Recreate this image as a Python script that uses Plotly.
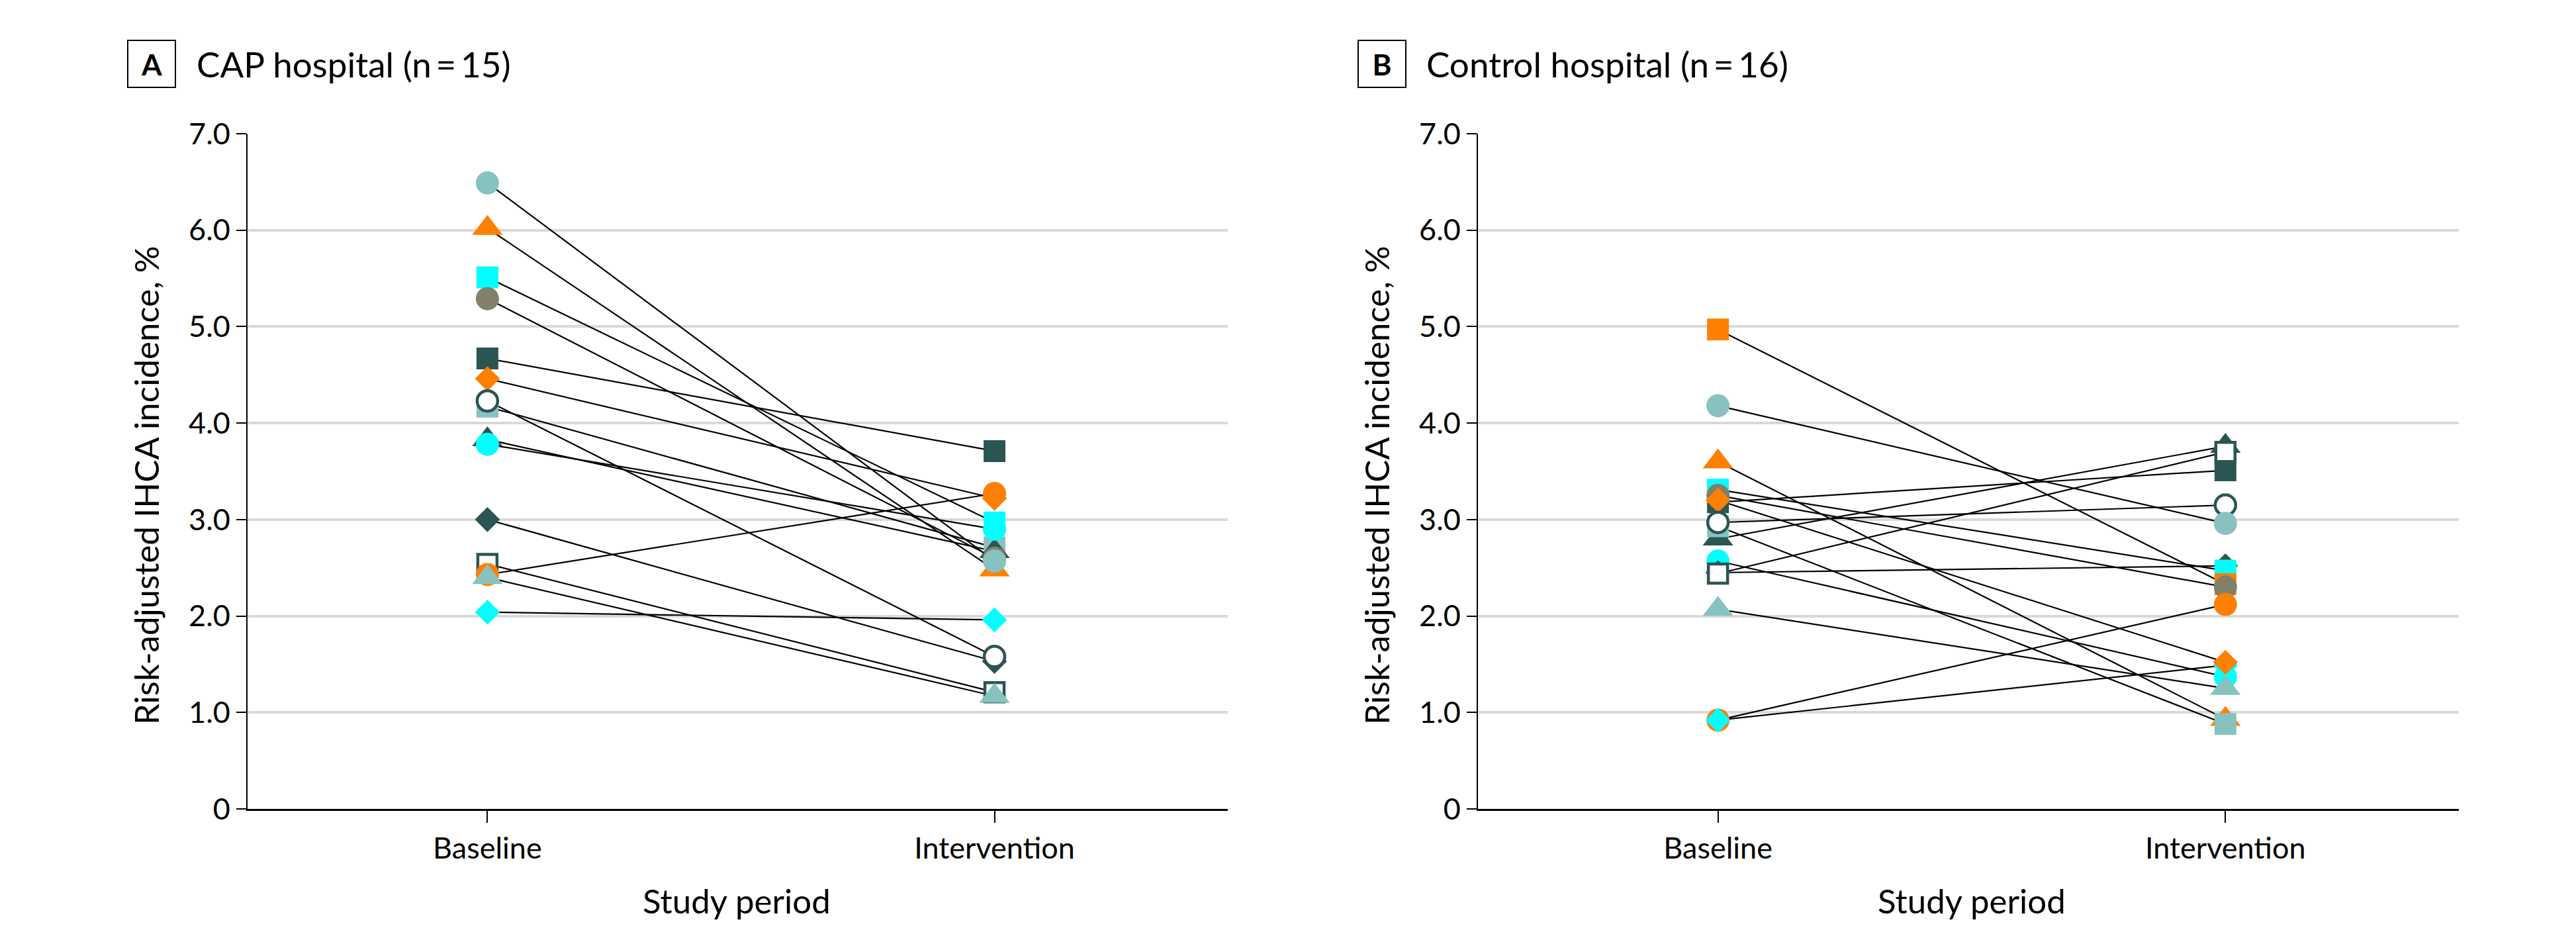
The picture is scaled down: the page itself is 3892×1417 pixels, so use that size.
import plotly.graph_objects as go

# ---------------- data ----------------
PERIODS = ["Baseline", "Intervention"]
Y_TICKS = [0, 1, 2, 3, 4, 5, 6, 7]
Y_TICK_LABELS = ["0", "1.0", "2.0", "3.0", "4.0", "5.0", "6.0", "7.0"]

PANEL_A_LETTER = "A"
PANEL_B_LETTER = "B"
PANEL_A_TITLE = "CAP hospital (n\u2009=\u200915)"
PANEL_B_TITLE = "Control hospital (n\u2009=\u200916)"
Y_TITLE = "Risk-adjusted IHCA incidence, %"
X_TITLE = "Study period"

# unit keys (each unit keeps its own marker in both periods), listed in drawing order
CAP_UNITS = ["lt_sq", "dk_tri", "cy_sq", "dk_sq", "dk_dia", "or_dia", "dk_osq", "or_tri",
             "gr_circ", "cy_circ", "opn_circ", "or_circ", "lt_circ", "lt_tri", "cy_dia"]
CAP_BASELINE = [4.17, 3.83, 5.51, 4.67, 3.00, 4.46, 2.54, 6.02,
                5.29, 3.78, 4.23, 2.43, 6.49, 2.40, 2.04]
CAP_INTERVENTION = [2.71, 2.67, 2.97, 3.71, 1.53, 3.22, 1.21, 2.48,
                    2.60, 2.90, 1.58, 3.27, 2.57, 1.17, 1.96]

CTRL_UNITS = ["or_tri", "dk_tri", "dk_sq", "lt_sq", "cy_circ", "dk_dia", "dk_osq", "cy_sq",
              "or_sq", "gr_circ", "or_circ", "cy_dia", "or_dia", "opn_circ", "lt_tri", "lt_circ"]
CTRL_BASELINE = [3.60, 2.80, 3.18, 2.93, 2.57, 2.45, 2.44, 3.31,
                 4.97, 3.25, 0.92, 0.92, 3.20, 2.97, 2.07, 4.18]
CTRL_INTERVENTION = [0.93, 3.76, 3.51, 0.88, 1.37, 2.52, 3.70, 2.47,
                     2.33, 2.30, 2.12, 1.49, 1.52, 3.15, 1.25, 2.96]

# ---------------- styles ----------------
LT = "#88C2C0"
OR = "#FF8000"
CY = "#00FFFF"
DK = "#2B5553"
GR = "#818069"
WHITE = "#FFFFFF"
STYLE = {
    "lt_sq": ("square", LT, LT), "lt_circ": ("circle", LT, LT), "lt_tri": ("triangle-up", LT, LT),
    "or_sq": ("square", OR, OR), "or_circ": ("circle", OR, OR), "or_tri": ("triangle-up", OR, OR),
    "or_dia": ("diamond", OR, OR),
    "cy_sq": ("square", CY, CY), "cy_circ": ("circle", CY, CY), "cy_dia": ("diamond", CY, CY),
    "dk_sq": ("square", DK, DK), "dk_tri": ("triangle-up", DK, DK), "dk_dia": ("diamond", DK, DK),
    "dk_osq": ("square", WHITE, DK), "opn_circ": ("circle", WHITE, DK),
    "gr_circ": ("circle", GR, GR),
}
SIZE = {"circle": 35, "square": 33, "triangle-up": 40, "diamond": 29}

W, H = 3892, 1417
FONT = "Lato, Roboto, Open Sans, sans-serif"

def px(x):
    return x / W

def py(y):
    return 1 - y / H

fig = go.Figure()

panels = [
    ("x", "y", CAP_UNITS, CAP_BASELINE, CAP_INTERVENTION),
    ("x2", "y2", CTRL_UNITS, CTRL_BASELINE, CTRL_INTERVENTION),
]
for xa, ya, units, base, inter in panels:
    for u, b, i in zip(units, base, inter):
        fig.add_trace(go.Scatter(x=PERIODS, y=[b, i], mode="lines",
                                 line=dict(color="black", width=2.2),
                                 xaxis=xa, yaxis=ya, showlegend=False, hoverinfo="skip"))
    for u, b, i in zip(units, base, inter):
        sym, fill, edge = STYLE[u]
        open_m = fill == WHITE
        fig.add_trace(go.Scatter(x=PERIODS, y=[b, i], mode="markers",
                                 marker=dict(symbol=sym, size=SIZE[sym] - (4 if open_m else 0),
                                             color=fill,
                                             line=dict(color=edge, width=4.5 if open_m else 0)),
                                 xaxis=xa, yaxis=ya, showlegend=False))

axis_common_y = dict(range=[0, 7], tickvals=Y_TICKS, ticktext=Y_TICK_LABELS, automargin=False,
                     showgrid=True, gridcolor="#D9D9D9", gridwidth=3.5, zeroline=False,
                     showline=True, linecolor="black", linewidth=2.2,
                     ticks="outside", ticklen=15, tickwidth=2.2, tickcolor="black",
                     tickfont=dict(family=FONT, size=45, color="black"), fixedrange=True)
axis_common_x = dict(type="category", range=[-0.473, 1.46], showgrid=False, zeroline=False,
                     automargin=False,
                     showline=True, linecolor="black", linewidth=3,
                     ticks="outside", ticklen=18, tickwidth=2, tickcolor="black",
                     tickfont=dict(family=FONT, size=45, color="black"), fixedrange=True)

y_dom = [py(1214), py(194)]
fig.update_layout(
    width=W, height=H,
    margin=dict(l=0, r=0, t=0, b=0, pad=0, autoexpand=False),
    paper_bgcolor="white", plot_bgcolor="white",
    xaxis=dict(domain=[px(366), px(1847)], anchor="y", **axis_common_x),
    yaxis=dict(domain=y_dom, anchor="x", **axis_common_y),
    xaxis2=dict(domain=[px(2225), px(3707)], anchor="y2", **axis_common_x),
    yaxis2=dict(domain=y_dom, anchor="x2", **axis_common_y),
)

annotations = []
for letter, title, box_x, title_x, ytitle_x, xtitle_x in [
        (PANEL_A_LETTER, PANEL_A_TITLE, 221, 287, 212, 1105),
        (PANEL_B_LETTER, PANEL_B_TITLE, 2080, 2145, 2071, 2971)]:
    annotations.append(dict(x=px(box_x), y=py(88), xref="paper", yref="paper",
                            text="<b>" + letter + "</b>", showarrow=False,
                            font=dict(family=FONT, size=44, color="black"),
                            width=66, height=65, align="center", valign="middle",
                            bordercolor="black", borderwidth=2, borderpad=2,
                            bgcolor="white", xanchor="center", yanchor="middle"))
    annotations.append(dict(x=px(title_x), y=py(88), xref="paper", yref="paper",
                            text=title, showarrow=False,
                            font=dict(family=FONT, size=53, color="black"),
                            xanchor="left", yanchor="middle"))
    annotations.append(dict(x=px(ytitle_x), y=py(725), xref="paper", yref="paper",
                            text=Y_TITLE, showarrow=False, textangle=-90,
                            font=dict(family=FONT, size=51, color="black"),
                            xanchor="center", yanchor="middle"))
    annotations.append(dict(x=px(xtitle_x), y=py(1352), xref="paper", yref="paper",
                            text=X_TITLE, showarrow=False,
                            font=dict(family=FONT, size=51, color="black"),
                            xanchor="center", yanchor="middle"))
fig.update_layout(annotations=annotations)

fig.write_html("out.html")
